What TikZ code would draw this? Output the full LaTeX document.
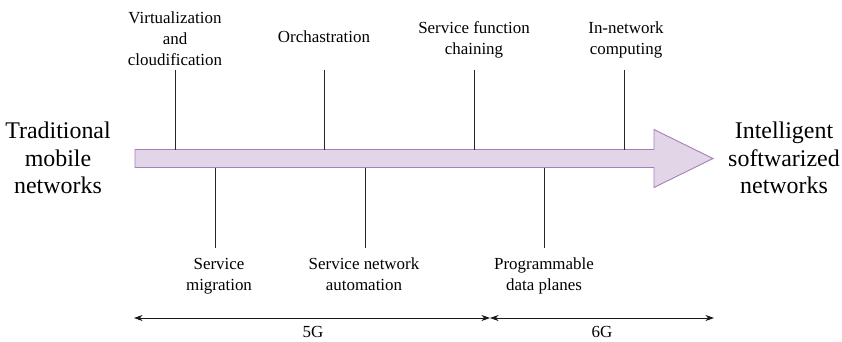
\documentclass[tikz,border=0pt]{standalone}
\usepackage{fontspec}
\setmainfont{Liberation Serif}
\usetikzlibrary{arrows.meta}
\definecolor{bandfill}{RGB}{226,213,231}
\definecolor{bandline}{RGB}{164,128,186}
\begin{document}
\begin{tikzpicture}[x=1bp,y=-1bp,
  small/.style={font=\fontsize{17}{21}\selectfont, align=center, inner sep=0pt},
  big/.style={font=\fontsize{24}{27.5}\selectfont, align=center, inner sep=0pt},
  tick/.style={draw=black!85, line width=0.8bp},
  tip/.tip={Stealth[length=8.5bp,width=6bp,inset=2.5bp]},
  span/.style={draw=black!90, line width=0.9bp, tip-tip}]
\useasboundingbox (0,0) rectangle (842,341);

% evolution arrow
\draw[fill=bandfill, draw=bandline, line width=0.9bp]
  (135,149.5) -- (654,149.5) -- (654,129.5) -- (713,158.5) -- (654,187.5)
  -- (654,167.5) -- (135,167.5) -- cycle;

% end points of the evolution
\node[big] (from) at (58,158) {Traditional\\mobile\\networks};
\node[big] (to) at (784,158) {Intelligent\\softwarized\\networks};

% milestones above the arrow
\node[small] (virt) at (175,39) {Virtualization\\and\\cloudification};
\node[small] (orch) at (324,37) {Orchastration};
\node[small] (sfc) at (474,39.5) {Service function\\chaining};
\node[small] (inc) at (626,40) {In-network\\computing};

\foreach \n/\x in {virt/175, orch/324, sfc/474, inc/624} {
  \coordinate (\n-top) at (\x,70);
  \coordinate (\n-bar) at (\x,149.5);
  \draw[tick] (\n-top) -- (\n-bar);
}

% milestones below the arrow
\node[small] (mig) at (219,276) {Service\\migration};
\node[small] (auto) at (364,274) {Service network\\automation};
\node[small] (pdp) at (544,276) {Programmable\\data planes};

\foreach \n/\x in {mig/215, auto/365, pdp/544} {
  \coordinate (\n-bar) at (\x,167.5);
  \coordinate (\n-end) at (\x,248);
  \draw[tick] (\n-bar) -- (\n-end);
}

% generations
\coordinate (g0) at (134,318);
\coordinate (g1) at (490,318);
\coordinate (g2) at (714,318);
\draw[span] (g0) -- (g1);
\draw[span] (g1) -- (g2);
\node[small] (fiveg) at (313,332) {5G};
\node[small] (sixg) at (602,332) {6G};
\end{tikzpicture}
\end{document}
